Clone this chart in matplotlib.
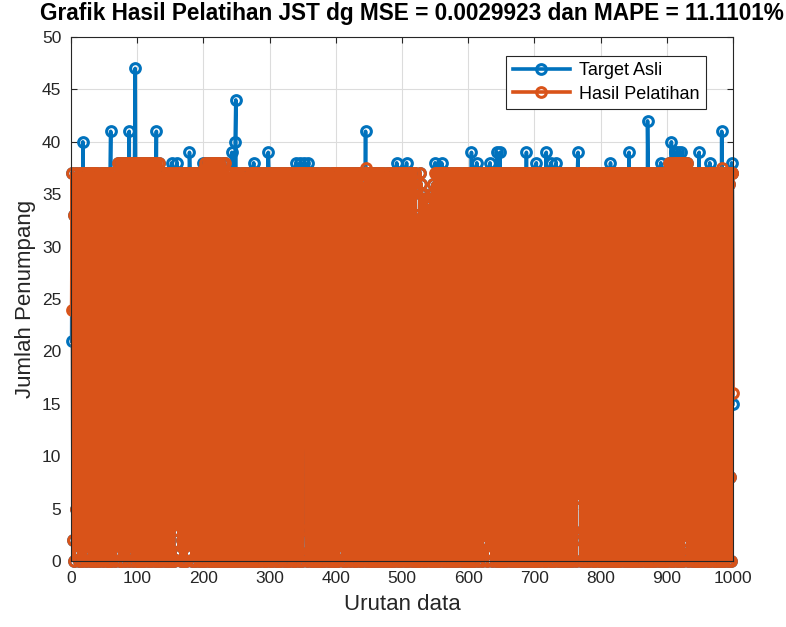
import matplotlib
matplotlib.use("Agg")
import matplotlib.pyplot as plt
import numpy as np

plt.rcParams['font.family'] = ['Liberation Sans', 'DejaVu Sans']

# Data target (jumlah penumpang), dibaca kira-kira dari gambar, 25 nilai per baris
target_asli = [
    21, 37, 2, 33, 0, 24, 37, 5, 36, 1, 30, 0, 37, 8, 35, 0, 14, 37, 3, 28, 37, 0, 31, 6, 37,
    1, 36, 12, 0, 37, 26, 2, 37, 0, 33, 9, 37, 0, 29, 37, 4, 36, 0, 22, 37, 1, 34, 37, 0, 18,
    37, 3, 35, 0, 27, 37, 7, 0, 36, 30, 0, 37, 11, 37, 2, 32, 0, 37, 25, 1, 38, 5, 34, 0, 38,
    0, 28, 38, 2, 36, 0, 19, 38, 4, 35, 38, 0, 30, 6, 38, 1, 38, 13, 0, 33, 38, 2, 26, 38, 0,
    35, 0, 38, 9, 31, 0, 38, 3, 24, 38, 0, 36, 1, 38, 16, 0, 34, 38, 5, 29, 0, 38, 2, 36, 10,
    38, 0, 32, 38, 1, 27, 0, 38, 6, 36, 0, 37, 20, 2, 35, 37, 0, 30, 4, 37, 12, 0, 37, 1, 33,
    0, 37, 8, 36, 0, 25, 37, 3, 34, 0, 37, 15, 1, 37, 31, 0, 36, 2, 37, 7, 0, 35, 37, 0, 23,
    37, 1, 33, 0, 37, 10, 36, 0, 28, 37, 2, 37, 0, 35, 5, 37, 21, 0, 36, 1, 37, 30, 0, 37, 4,
    34, 0, 38, 17, 2, 36, 38, 0, 26, 3, 38, 0, 33, 38, 6, 0, 38, 11, 35, 0, 38, 2, 29, 38, 0,
    36, 5, 0, 38, 32, 1, 38, 0, 22, 36, 0, 37, 9, 34, 0, 37, 3, 37, 0, 27, 36, 0, 37, 14, 1,
    0, 37, 24, 2, 36, 0, 31, 37, 7, 0, 35, 37, 1, 28, 0, 37, 12, 36, 0, 33, 2, 37, 0, 19, 37,
    4, 35, 0, 37, 26, 0, 37, 3, 36, 15, 0, 37, 30, 1, 37, 0, 34, 8, 37, 0, 23, 36, 2, 37, 0,
    37, 6, 33, 0, 37, 18, 1, 36, 0, 37, 29, 0, 37, 4, 35, 0, 37, 21, 2, 36, 37, 0, 27, 5, 37,
    0, 36, 11, 37, 0, 32, 37, 2, 25, 0, 37, 8, 36, 0, 34, 37, 1, 30, 0, 37, 16, 3, 37, 0, 35,
    37, 0, 28, 37, 3, 0, 36, 20, 37, 1, 33, 0, 37, 10, 0, 35, 37, 5, 26, 0, 37, 2, 36, 13, 0,
    31, 37, 0, 35, 4, 37, 0, 24, 36, 1, 37, 7, 0, 37, 29, 2, 36, 0, 37, 17, 0, 34, 37, 3, 37,
    0, 37, 22, 0, 36, 6, 37, 33, 1, 37, 0, 27, 37, 4, 35, 0, 37, 14, 2, 36, 37, 0, 31, 8, 37,
    1, 36, 0, 37, 19, 0, 35, 37, 3, 30, 37, 0, 37, 11, 0, 34, 36, 2, 25, 37, 0, 37, 6, 33, 0,
    37, 12, 0, 36, 28, 1, 37, 0, 34, 5, 37, 23, 0, 37, 2, 36, 0, 30, 37, 9, 0, 37, 35, 1, 26,
    0, 37, 4, 36, 0, 32, 37, 15, 0, 37, 3, 35, 0, 37, 21, 2, 36, 37, 0, 28, 7, 37, 0, 34, 37,
    2, 33, 37, 0, 26, 37, 5, 36, 0, 37, 18, 1, 37, 31, 0, 35, 9, 37, 0, 37, 24, 3, 33, 0, 31,
    0, 37, 13, 36, 2, 35, 0, 29, 35, 6, 0, 34, 34, 1, 22, 33, 0, 34, 4, 35, 0, 36, 27, 0, 37,
    37, 3, 0, 37, 33, 0, 37, 17, 2, 36, 37, 0, 30, 8, 37, 0, 35, 37, 1, 25, 0, 37, 11, 36, 0,
    34, 37, 1, 28, 0, 37, 6, 36, 0, 37, 20, 2, 37, 32, 0, 36, 10, 37, 0, 37, 4, 35, 0, 37, 23,
    0, 36, 37, 2, 31, 0, 37, 14, 0, 35, 37, 3, 27, 37, 0, 37, 7, 36, 1, 33, 0, 37, 19, 2, 37,
    5, 37, 0, 34, 37, 1, 26, 0, 37, 36, 0, 37, 12, 3, 35, 37, 0, 29, 37, 2, 36, 0, 37, 16, 0,
    37, 30, 0, 37, 4, 36, 0, 37, 21, 1, 37, 35, 0, 33, 7, 37, 0, 37, 25, 2, 36, 0, 37, 10, 34,
    0, 37, 3, 36, 0, 37, 28, 1, 37, 0, 35, 15, 37, 0, 37, 6, 32, 0, 36, 37, 2, 24, 0, 37, 0,
    36, 37, 8, 0, 35, 37, 1, 30, 0, 37, 19, 2, 36, 37, 0, 34, 0, 37, 12, 37, 3, 27, 0, 36, 37,
    0, 33, 37, 5, 0, 36, 37, 22, 1, 37, 0, 37, 9, 35, 0, 37, 31, 2, 36, 0, 37, 17, 0, 37, 4,
    35, 0, 37, 26, 1, 37, 0, 36, 11, 37, 2, 33, 0, 37, 37, 0, 29, 6, 36, 0, 37, 20, 3, 37, 0,
    37, 14, 0, 36, 32, 1, 37, 0, 25, 37, 4, 35, 0, 37, 8, 36, 0, 37, 30, 2, 37, 0, 34, 18, 0,
    36, 37, 2, 28, 0, 37, 7, 36, 0, 33, 37, 1, 37, 0, 22, 35, 37, 3, 0, 36, 13, 37, 0, 31, 37,
    0, 37, 5, 34, 0, 37, 24, 1, 36, 37, 0, 29, 37, 10, 0, 37, 2, 35, 0, 37, 37, 16, 0, 36, 3,
    37, 0, 30, 37, 6, 0, 36, 37, 1, 27, 0, 37, 12, 35, 2, 37, 0, 33, 37, 0, 21, 36, 4, 37, 0,
    34, 37, 0, 37, 18, 2, 36, 0, 31, 37, 1, 37, 8, 0, 35, 37, 26, 0, 37, 3, 36, 0, 37, 14, 37,
    0, 35, 38, 4, 29, 0, 38, 11, 36, 0, 38, 33, 2, 38, 0, 23, 36, 38, 1, 0, 38, 7, 34, 38, 0,
    38, 2, 26, 0, 38, 36, 0, 37, 15, 1, 35, 37, 0, 30, 37, 5, 0, 36, 37, 20, 0, 37, 3, 33, 0,
    36, 0, 37, 9, 37, 0, 32, 37, 1, 24, 36, 0, 37, 6, 35, 0, 37, 28, 2, 37, 0, 36, 12, 0, 37,
    3, 37, 34, 0, 27, 37, 1, 36, 0, 37, 17, 0, 35, 37, 2, 30, 37, 0, 36, 8, 37, 0, 22, 37, 15,
]

# Puncak target yang terlihat di atas keluaran JST
puncak_x = [18, 60, 88, 92, 97, 129, 152, 160, 179, 200, 243, 248, 249, 276, 298,
            340, 346, 352, 358, 445, 492, 507, 550, 560, 605, 613, 633, 643, 648,
            688, 703, 718, 725, 733, 766, 815, 843, 871, 891, 907, 912, 917, 922,
            929, 949, 965, 983, 998]
puncak_target = [40, 41, 41, 38, 47, 41, 38, 38, 39, 38, 39, 40, 44, 38, 39,
                 38, 38, 38, 38, 41, 38, 38, 38, 38, 39, 38, 38, 39, 39,
                 39, 38, 39, 38, 38, 39, 38, 39, 42, 38, 40, 39, 39, 39,
                 38, 39, 38, 41, 38]
puncak_hasil = [37, 37, 38, 37.5, 38, 38, 37, 37, 37, 37.3, 37, 37, 37, 37, 37,
                37, 37, 37, 37, 37.5, 37, 37, 37, 37, 37, 37, 37, 37, 37,
                37, 37, 37, 37, 37, 37, 37, 37, 37, 37, 38, 38, 38, 38,
                37.5, 37, 37, 37.5, 37]

# Nilai ujung
ujung_x = [1, 1000]
ujung_hasil = [24, 16]

target = np.array(target_asli, dtype=float)
hasil = target.copy()
for xi, t, h in zip(puncak_x, puncak_target, puncak_hasil):
    target[xi - 1] = t
    hasil[xi - 1] = h
for xi, h in zip(ujung_x, ujung_hasil):
    hasil[xi - 1] = h
urutan = np.arange(1, len(target) + 1)

biru = '#0072BD'
oranye = '#D95319'
abu = '#262626'

fig = plt.figure(figsize=(7.86, 6.27), dpi=100)
ax = fig.add_axes([0.0903, 0.105, 0.8422, 0.836])

gaya = dict(marker='o', markersize=7, markeredgewidth=2.2, markerfacecolor='none',
            linewidth=2.6, clip_on=False)
ax.plot(urutan, target, color=biru, label='Target Asli', **gaya)
ax.plot(urutan, hasil, color=oranye, label='Hasil Pelatihan', **gaya)

ax.set_xlim(0, 1000)
ax.set_ylim(0, 50)
ax.set_xticks(np.arange(0, 1001, 100))
ax.set_yticks(np.arange(0, 51, 5))
ax.grid(True, color='#dcdcdc', linewidth=0.8)
ax.set_axisbelow(True)
ax.tick_params(direction='in', length=4, width=0.8, colors=abu, labelsize=12.5,
               top=True, right=True, pad=7)
for s in ax.spines.values():
    s.set_color(abu)
    s.set_linewidth(0.8)

ax.set_title('Grafik Hasil Pelatihan JST dg MSE = 0.0029923 dan MAPE = 11.1101%',
             fontsize=16.3, fontweight='bold', pad=12, x=0.515)
ax.set_xlabel('Urutan data', fontsize=16, color=abu, labelpad=6)
ax.set_ylabel('Jumlah Penumpang', fontsize=16, color=abu, labelpad=4)

leg = ax.legend(loc='upper right', bbox_to_anchor=(0.9596, 0.9636), borderaxespad=0,
                fontsize=13, handlelength=3.2, handletextpad=0.5, borderpad=0.35,
                labelspacing=0.35, numpoints=1, fancybox=False, framealpha=1)
leg.get_frame().set_edgecolor(abu)
leg.get_frame().set_linewidth(0.8)

plt.savefig('out.png', dpi=100)
